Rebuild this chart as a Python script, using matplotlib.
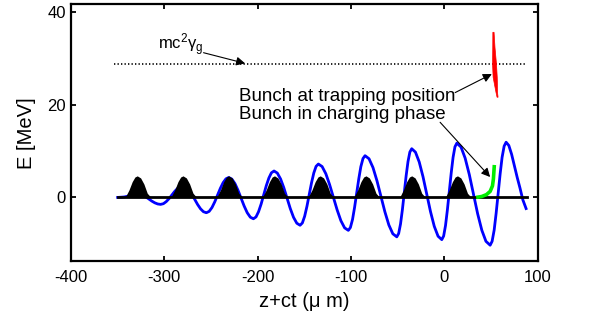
import numpy as np
import matplotlib.pyplot as plt

plt.rcParams['font.family'] = ['Liberation Sans', 'DejaVu Sans']
plt.rcParams['mathtext.fontset'] = 'custom'
plt.rcParams['mathtext.rm'] = 'Liberation Sans'
plt.rcParams['mathtext.it'] = 'Liberation Sans'
plt.rcParams['axes.unicode_minus'] = False
plt.rcParams['font.size'] = 12

# wakefield (blue)
wave_z = [-350, -343, -336,
          -329, -325.9, -322.75, -319.6, -316.5, -313.4, -310.25, -307.1,
          -304, -301, -298, -295, -292, -289, -286, -283,
          -280, -276.9, -273.75, -270.6, -267.5, -264.4, -261.25, -258.1,
          -255, -252, -249, -246, -243, -240, -237, -234,
          -231, -227.7, -224.4, -221.1, -217.8, -214.5, -211.2, -207.9,
          -204.6, -201.8, -199.1, -196.3, -193.55, -190.8, -188.0, -185.3,
          -182.5, -179.0, -175.5, -172.0, -168.55, -165.1, -161.6, -158.1,
          -154.6, -152.15, -149.7, -147.25, -144.8, -142.35, -139.9, -137.45,
          -135, -131.0, -127.0, -123.0, -118.95, -114.9, -110.9, -106.9,
          -102.9, -100.7, -98.4, -96.2, -93.95, -91.7, -89.5, -87.2,
          -85, -80.75, -76.5, -72.25, -68, -63.75, -59.5, -55.25,
          -51, -49, -47, -45, -43, -41, -39, -37,
          -35, -31.0, -26.95, -22.9, -18.9, -14.9, -10.85, -6.8,
          -2.8, -0.8, 1.2, 3.2, 5.25, 7.3, 9.3, 11.3,
          13.3, 17.8, 22.2, 26.7, 31.15, 35.6, 40.1, 44.5,
          49, 51.1, 53.3, 55.4, 57.55, 59.7, 61.8, 64.0,
          66.1, 69, 72, 75, 78, 81, 84, 87.5]
wave_E = [0.0, 0.1, 0.4,
          0.8, 0.71, 0.46, 0.09, -0.35, -0.79, -1.16, -1.41,
          -1.5, -1.35, -0.91, -0.27, 0.5, 1.27, 1.91, 2.35,
          2.5, 2.28, 1.65, 0.71, -0.4, -1.51, -2.45, -3.08,
          -3.3, -3.01, -2.19, -0.96, 0.5, 1.96, 3.19, 4.01,
          4.3, 3.96, 3.0, 1.55, -0.15, -1.85, -3.3, -4.26,
          -4.6, -4.21, -3.09, -1.42, 0.55, 2.52, 4.19, 5.31,
          5.7, 5.26, 3.99, 2.09, -0.15, -2.39, -4.29, -5.56,
          -6.0, -5.5, -4.07, -1.93, 0.6, 3.13, 5.27, 6.7,
          7.2, 6.66, 5.11, 2.79, 0.05, -2.69, -5.01, -6.56,
          -7.1, -6.49, -4.74, -2.13, 0.95, 4.03, 6.64, 8.39,
          9.0, 8.34, 6.44, 3.6, 0.25, -3.1, -5.94, -7.84,
          -8.5, -7.78, -5.72, -2.64, 1.0, 4.64, 7.72, 9.78,
          10.5, 9.76, 7.63, 4.45, 0.7, -3.05, -6.23, -8.36,
          -9.1, -8.31, -6.05, -2.68, 1.3, 5.28, 8.65, 10.91,
          11.7, 10.86, 8.48, 4.91, 0.7, -3.51, -7.08, -9.46,
          -10.3, -9.46, -7.05, -3.45, 0.8, 5.05, 8.65, 11.06,
          11.9, 11.2, 9.3, 6.8, 4.3, 2.0, -0.5, -2.4]

# driver bunches (black)
bunch_centres = [-329, -280, -231, -182, -133, -84, -35, 14]
bunch_dz = [-14, -12.5, -8.9, -5.4, -2.5, 0, 3.6, 7.1, 10.7, 14.3, 16]
bunch_E = [0, 0.2, 1.6, 3.4, 4.4, 4.65, 4.2, 2.9, 0.9, 0.1, 0]
base_z = [-350, 88]

# bunch in charging phase (green)
green_z = [34, 40, 45, 49, 51.5, 52.5, 53, 53.5]
green_E = [0, 0.2, 0.6, 1.3, 2.5, 4.0, 5.5, 7.0]

# trapped bunch (red), outline
red_z = [51.9, 53.2, 54.2, 55.8, 56.6, 56.8, 56.9, 57.5, 56.4, 55.3, 53.6, 52.2, 51.6, 51.8]
red_E = [35.6, 35.6, 32.3, 28.7, 25.9, 24.4, 22.6, 21.6, 21.6, 22.6, 24.4, 25.9, 28.7, 32.3]

# m c^2 gamma_g level (dotted)
gamma_E = 28.7
gamma_z = [-354, 87]

fig = plt.figure(figsize=(5.89, 3.20), dpi=100)
ax = fig.add_axes([0.1205, 0.183, 0.7925, 0.8045])

ax.plot(wave_z, wave_E, color='#0000ff', lw=2.0, zorder=2)
for c in bunch_centres:
    ax.fill_between([c + d for d in bunch_dz], bunch_E, 0, color='k', lw=0, zorder=3)
ax.plot(base_z, [0, 0], color='k', lw=2.0, zorder=4)
ax.plot(green_z, green_E, color='#00ee00', lw=2.6, solid_capstyle='butt', zorder=5)
ax.fill(red_z, red_E, color='#ff0000', lw=0.5, zorder=5)
ax.plot(gamma_z, [gamma_E, gamma_E], color='k', ls=(0, (0.8, 1.3)), lw=1.2, zorder=1)

arrow = dict(arrowstyle='-|>', color='k', lw=0.8, mutation_scale=13, shrinkA=0, shrinkB=0)
ax.text(-306.4, 31.9, r'mc$^2\gamma_g$', fontsize=12, va='baseline')
ax.annotate('', xy=(-213.5, 28.9), xytext=(-258, 31.2), arrowprops=arrow)
ax.text(-219.6, 20.75, 'Bunch at trapping position', fontsize=13.5, va='baseline')
ax.text(-219.6, 17.0, 'Bunch in charging phase', fontsize=13.5, va='baseline')
ax.annotate('', xy=(50.8, 26.6), xytext=(11.5, 22.6), arrowprops=arrow)
ax.annotate('', xy=(49, 4.4), xytext=(-4.6, 16.2), arrowprops=arrow)

ax.set_xlim(-400, 100)
ax.set_ylim(-13.8, 41.7)
ax.set_xticks([-400, -300, -200, -100, 0, 100])
ax.set_yticks([0, 20, 40])
ax.tick_params(direction='in', length=3.5, width=1.3, top=True, right=True)
ax.tick_params(axis='x', pad=6)
for s in ax.spines.values():
    s.set_linewidth(1.6)
ax.set_xlabel('z+ct (μ m)', fontsize=14.5, labelpad=5)
ax.set_ylabel('E [MeV]', fontsize=14.5, labelpad=8)

fig.savefig('out.png', dpi=100)
